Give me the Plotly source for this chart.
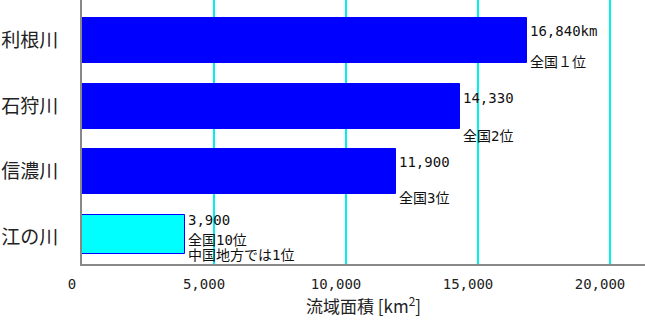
import plotly.graph_objects as go

rivers = ["利根川", "石狩川", "信濃川", "江の川"]
areas = [16840, 14330, 11900, 3900]
colors = ["#0000ff", "#0000ff", "#0000ff", "#00ffff"]
widths = [0.69, 0.69, 0.69, 0.6]
value_labels = ["16,840km", "14,330", "11,900", "3,900"]
rank_labels = [["全国１位"], ["全国2位"], ["全国3位"], ["全国10位", "中国地方では1位"]]
tick_vals = [0, 5000, 10000, 15000, 20000]
tick_text = ["0", "5,000", "10,000", "15,000", "20,000"]

MONO = "DejaVu Sans Mono, Noto Sans CJK JP"
CJK = "Noto Sans CJK JP"

fig = go.Figure()
fig.add_trace(go.Bar(
    y=rivers, x=areas, orientation="h",
    width=widths, offset=[-0.345] * 4,
    marker=dict(color=colors, line=dict(color="#0000ff", width=1)),
    hoverinfo="skip",
))

# label shifts (pixels) per bar: value line, then rank lines
shifts = [[10, -21], [8.5, -29.5], [9.5, -26.5], [17, -3, -18]]
for i, r in enumerate(rivers):
    lines = [value_labels[i]] + rank_labels[i]
    for j, t in enumerate(lines):
        fig.add_annotation(
            x=areas[i], y=r, text=t, showarrow=False,
            xanchor="left", yanchor="middle", xshift=1, yshift=shifts[i][j],
            font=dict(family=MONO, size=14, color="#111"),
        )

fig.update_layout(
    width=645, height=327,
    margin=dict(l=82, r=0, t=0, b=63),
    paper_bgcolor="white", plot_bgcolor="white",
    showlegend=False,
    bargap=0,
)
fig.update_xaxes(
    range=[0, 21326],
    tickvals=tick_vals, ticktext=tick_text,
    tickfont=dict(family=MONO, size=14, color="#222"),
    ticklabelshift=-10,
    showgrid=True, gridcolor="#00f0f0", gridwidth=1.5,
    zeroline=False,
    showline=True, linecolor="#888", linewidth=2,
    ticks="outside", ticklen=6, tickcolor="rgba(0,0,0,0)",
    title=dict(text="流域面積 [km<sup>2</sup>]", font=dict(family=CJK, size=17, color="#222"), standoff=9),
)
fig.update_yaxes(
    type="category", categoryorder="array", categoryarray=rivers,
    range=[3.41, -0.62],
    tickfont=dict(family=CJK, size=19, color="#222"),
    showgrid=False, zeroline=False,
    showline=True, linecolor="#888", linewidth=2,
    ticks="outside", ticklen=18, tickcolor="rgba(0,0,0,0)",
)

fig.write_html("out.html")
